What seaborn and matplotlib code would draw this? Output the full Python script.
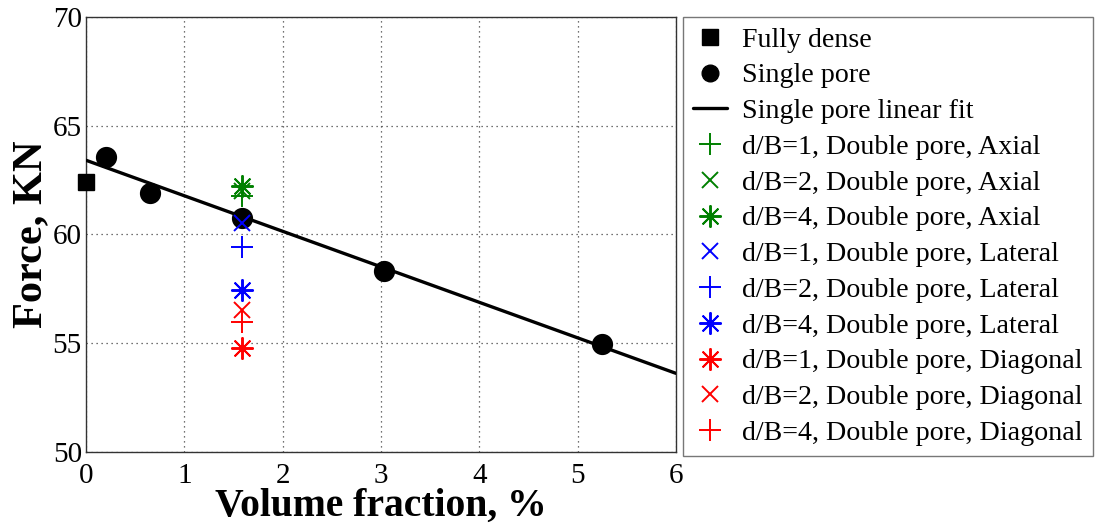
import numpy as np
import pandas as pd
import matplotlib
matplotlib.use("Agg")
import matplotlib.pyplot as plt
import seaborn as sns

sns.set_style("white")
plt.rcParams["font.family"] = ["Liberation Serif", "DejaVu Serif"]
plt.rcParams["text.color"] = "black"
plt.rcParams["axes.labelcolor"] = "black"
plt.rcParams["xtick.color"] = "black"
plt.rcParams["ytick.color"] = "black"

# Fully dense reference specimen
dense_x = [0.0]
dense_y = [62.43]

# Specimens with a single pore
single_x = [0.20, 0.65, 1.59, 3.03, 5.25]
single_y = [63.58, 61.93, 60.74, 58.34, 54.97]

# Specimens with two pores, all at the same volume fraction
double_x = 1.59
double_labels = [
    "d/B=1, Double pore, Axial",
    "d/B=2, Double pore, Axial",
    "d/B=4, Double pore, Axial",
    "d/B=1, Double pore, Lateral",
    "d/B=2, Double pore, Lateral",
    "d/B=4, Double pore, Lateral",
    "d/B=1, Double pore, Diagonal",
    "d/B=2, Double pore, Diagonal",
    "d/B=4, Double pore, Diagonal",
]
double_y = [61.75, 62.0, 62.25, 60.52, 59.44, 57.45, 54.77, 56.53, 55.99]
double_markers = ["+", "x", "*", "x", "+", "*", "*", "x", "+"]
double_colors = ["#008000", "#008000", "#008000",
                 "#0000ff", "#0000ff", "#0000ff",
                 "#ff0000", "#ff0000", "#ff0000"]

x_ticks = [0, 1, 2, 3, 4, 5, 6]
y_ticks = [50, 55, 60, 65, 70]

# eight-armed asterisk (plus and cross combined)
ASTERISK = (8, 2, 0)
marker_map = {"+": ("+", 16), "x": ("x", 12), "*": (ASTERISK, 16)}

fig = plt.figure(figsize=(10.99, 5.23), dpi=100)
ax = fig.add_axes([0.0783, 0.1358, 0.5367, 0.8317])

handles = []

h = ax.plot(dense_x, dense_y, linestyle="none", marker="s", markersize=11,
            color="black", label="Fully dense", zorder=4, clip_on=False)[0]
handles.append(h)

single_df = pd.DataFrame({"x": single_x, "y": single_y})
sns.scatterplot(data=single_df, x="x", y="y", ax=ax, marker="o", s=200,
                color="black", edgecolor="black", zorder=4, legend=False)
handles.append(plt.Line2D([], [], linestyle="none", marker="o", markersize=12,
                          color="black", label="Single pore"))

# least-squares line through the single-pore results, drawn across the axis
slope, intercept = np.polyfit(single_x, single_y, 1)
fit_df = pd.DataFrame({"x": [x_ticks[0], x_ticks[-1]]})
fit_df["y"] = intercept + slope * fit_df["x"]
sns.lineplot(data=fit_df, x="x", y="y", ax=ax, color="black", linewidth=2.4,
             zorder=3, legend=False)
handles.append(plt.Line2D([], [], color="black", linewidth=2.4,
                          label="Single pore linear fit"))

for lab, yv, mk, col in zip(double_labels, double_y, double_markers, double_colors):
    m, ms = marker_map[mk]
    h = ax.plot([double_x], [yv], linestyle="none", marker=m, markersize=ms,
                markeredgewidth=1.4, color=col, label=lab, zorder=5)[0]
    handles.append(h)

ax.set_xlim(x_ticks[0], x_ticks[-1])
ax.set_ylim(y_ticks[0], y_ticks[-1])
ax.set_xticks(x_ticks)
ax.set_yticks(y_ticks)
ax.tick_params(direction="in", length=4, labelsize=21, color="#333333")
ax.tick_params(axis="x", pad=8)
ax.tick_params(axis="y", pad=3)
ax.grid(True, linestyle=(0, (1, 3)), color="#444444", linewidth=0.9)
for sp in ax.spines.values():
    sp.set_color("#333333")
    sp.set_linewidth(1.0)

ax.set_xlabel("Volume fraction, %", fontsize=28.5, fontweight="bold", labelpad=-1)
ax.set_ylabel("Force, KN", fontsize=30.5, fontweight="bold", labelpad=2)

leg = fig.legend(handles=handles, loc="upper left",
                 bbox_to_anchor=(683 / 1099, 1 - 17 / 523),
                 fontsize=20.2, frameon=True, fancybox=False,
                 edgecolor="#555555", labelspacing=0.36, handlelength=1.2,
                 handletextpad=0.55, borderpad=0.36, borderaxespad=0)
leg.get_frame().set_linewidth(1.0)

fig.savefig("out.png", dpi=100)
